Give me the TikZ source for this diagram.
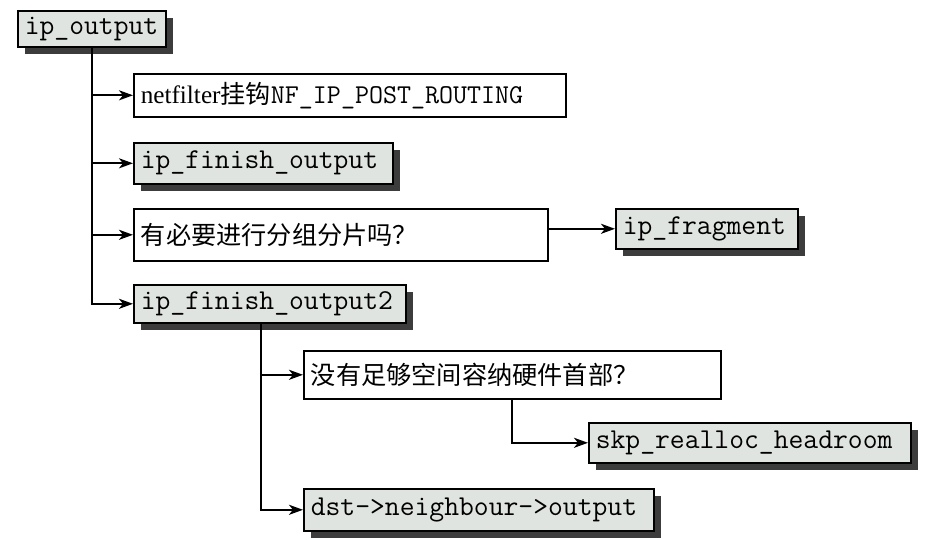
\documentclass[tikz,border=0pt]{standalone}
\usepackage{fontspec}
\setmainfont{Liberation Serif}
\newfontfamily\cjk{Noto Sans CJK SC}
\usetikzlibrary{arrows.meta,shadows}
\definecolor{fngray}{RGB}{224,228,224}
\definecolor{shade}{RGB}{60,60,60}
\newcommand{\boxfont}{\fontsize{12.6}{15}\selectfont}
\newcommand{\fnfont}{\fontsize{14.4}{16}\selectfont\ttfamily}

\begin{document}
\begin{tikzpicture}[x=0.5pt,y=-0.5pt,
    fn/.style={draw,line width=0.8pt,fill=fngray,font=\fnfont,anchor=north west,
      inner xsep=3.5pt,inner ysep=0pt,align=left,
      drop shadow={shadow xshift=3.5pt,shadow yshift=-3.5pt,fill=shade,opacity=1}},
    txt/.style={draw,line width=0.8pt,fill=white,font=\boxfont,anchor=north west,
      inner xsep=3.5pt,inner ysep=0pt,align=left},
    arr/.style={line width=1.1pt,-{Stealth[length=7pt,width=5pt,inset=2pt]}}]
    \useasboundingbox (0,0) rectangle (926,540);
    % call chain of ip_output
    \node[fn,text width=67pt,minimum height=18pt] (out) at (17,10) {ip\_output};
    \node[txt,text width=209pt,minimum height=21.5pt] (nf) at (133,73)
      {netfilter{\cjk 挂钩}{\fontsize{13.6}{15}\selectfont\ttfamily NF\_IP\_POST\_ROUTING}};
    \node[fn,text width=122.5pt,minimum height=20.5pt] (fin) at (133,142) {ip\_finish\_output};
    \node[txt,text width=200pt,minimum height=26pt,font=\boxfont\cjk] (frag) at (133,208) {有必要进行分组分片吗？};
    \node[fn,text width=84pt,minimum height=20pt] (ipfrag) at (615,208) {ip\_fragment};
    \node[fn,text width=129pt,minimum height=19pt] (fin2) at (133,284) {ip\_finish\_output2};
    \node[txt,text width=201.5pt,minimum height=24pt,font=\boxfont\cjk] (room) at (303,350) {没有足够空间容纳硬件首部？};
    \node[fn,text width=154pt,minimum height=20pt] (skp) at (588,422) {skp\_realloc\_headroom};
    \node[fn,text width=168pt,minimum height=21pt] (dst) at (303,488) {dst->neighbour->output};

    % connectors
    \foreach \n in {nf,fin,frag}
      \draw[arr] (out.south |- \n.west) -- (\n.west);
    \draw[arr] (out.south) |- (fin2.west);
    \draw[arr] (frag.east |- ipfrag.west) -- (ipfrag.west);
    \coordinate (b2) at ([xshift=-4.5pt]fin2.south);
    \draw[arr] (b2 |- room.west) -- (room.west);
    \draw[arr] (b2) |- (dst.west);
    \draw[arr] (room.south) |- (skp.west);
\end{tikzpicture}
\end{document}
